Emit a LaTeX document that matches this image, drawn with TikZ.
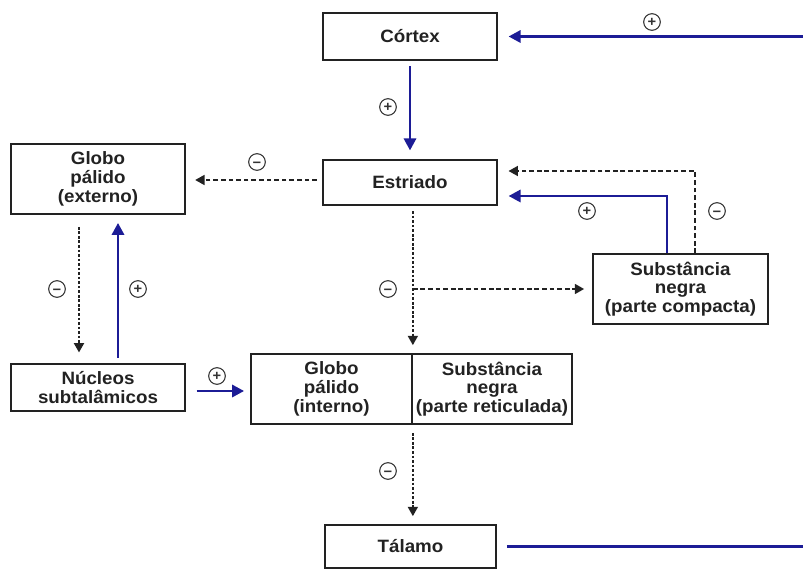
\documentclass[tikz,border=0pt]{standalone}
\usepackage{fontspec}
\setmainfont{Liberation Sans}[FakeStretch=1.05]
\usetikzlibrary{arrows.meta, calc, positioning}
\definecolor{Navy}  {HTML}{1C1C96}
\definecolor{DGray} {HTML}{222222}
\definecolor{MGray} {HTML}{333333}
\newcommand{\mns}{\raisebox{-1.3pt}{−}}
\tikzset{
  blk/.style={
    rectangle, draw=DGray, fill=white, text=DGray,
    font=\fontsize{13.4}{14}\selectfont\bfseries, align=center,
    inner sep=1pt, line width=1.3pt,
  },
  sgn/.style={
    circle, draw=MGray, line width=0.8pt, text=MGray,
    minimum size=12.5pt, inner sep=0pt,
    text height=0.62em, text depth=0pt,
    font=\fontsize{10.5}{11}\selectfont\bfseries,
  },
  blu/.style={
    -{Triangle[length=9pt,width=9pt]},
    line width=2.2pt, color=Navy,
  },
  dsh/.style={
    -{Triangle[length=7pt,width=7.5pt]},
    line width=1.2pt, color=DGray, dash pattern=on 3.5pt off 2.2pt,
  },
  dot/.style={
    -{Triangle[length=7pt,width=7.5pt]},
    line width=1.4pt, color=DGray, dash pattern=on 2pt off 1.4pt,
  },
}

\begin{document}
\begin{tikzpicture}[x=0.75pt,y=-0.75pt]
        \useasboundingbox (0,0) rectangle (803,570);
        % boxes
        \node[blk, minimum width=130.5pt, minimum height=35.25pt] (cortex) at (410,36.5) {Córtex};
        \node[blk, minimum width=130.5pt, minimum height=33.75pt] (estr)   at (410,182.5) {Estriado};
        \node[blk, minimum width=130.5pt, minimum height=52.5pt]  (gpe)    at (98,179) {Globo\\pálido\\(externo)};
        \node[blk, minimum width=130.5pt, minimum height=35.25pt] (nst)    at (98,387.5) {Núcleos\\subtalâmicos};
        \node[blk, minimum width=120.75pt, minimum height=52.5pt] (gpi)    at (331.5,389) {Globo\\pálido\\(interno)};
        \node[blk, minimum width=120pt, minimum height=52.5pt]    (snr)    at (492,389) {Substância\\negra\\(parte reticulada)};
        \node[blk, minimum width=131.25pt, minimum height=52.5pt] (snc)    at (680.5,289) {Substância\\negra\\(parte compacta)};
        \node[blk, minimum width=128.25pt, minimum height=32.25pt] (tal)   at (410.5,546.5) {Tálamo};
        % excitatory paths
        \coordinate (rt) at (812,546.5);
        \draw[blu, -] ([xshift=7.5pt]tal.east) -- (rt);
        \draw[blu, shorten >=8pt] (rt) |- (cortex.east);
        \draw[blu, shorten <=4pt, shorten >=6.5pt] (cortex.south) -- (estr.north);
        \draw[blu, shorten <=4pt, shorten >=6pt] ($(nst.north)+(20,0)$) -- ($(gpe.south)+(20,0)$);
        \draw[blu, shorten <=8pt, shorten >=4.5pt] (nst.east |- 0,391) -- (gpi.west |- 0,391);
        \draw[blu, shorten >=8pt] ($(snc.north)+(-13.5,0)$) |- ($(estr.east)+(0,13.5)$);
        % inhibitory paths
        \draw[dsh, shorten <=4pt, shorten >=7pt] (estr.west |- 0,180) -- (gpe.east |- 0,180);
        \draw[dot, shorten <=9pt, shorten >=8pt] ($(gpe.south)+(-19,0)$) -- ($(nst.north)+(-19,0)$);
        \draw[dot, shorten <=4pt, shorten >=6pt] (gpi.north east |- estr.south) -- (gpi.north east);
        \coordinate (br) at (gpi.north east |- snc.west);
        \draw[dsh, shorten >=6pt] (br) -- (snc.west);
        \draw[dsh, shorten >=8pt] ($(snc.north)+(14.5,0)$) |- ($(estr.east)+(0,-11.5)$);
        \draw[dot, shorten <=6pt, shorten >=6pt] (gpi.south east) -- (gpi.south east |- tal.north);
        % signs
        \node[sgn] (s1)  at (652,22)  {+};
        \node[sgn] (s2)  at (388,107) {+};
        \node[sgn] (s3)  at (257,162) {\mns};
        \node[sgn] (s4)  at (57,289)  {\mns};
        \node[sgn] (s5)  at (138,289) {+};
        \node[sgn] (s6)  at (217,376) {+};
        \node[sgn] (s7)  at (388,289) {\mns};
        \node[sgn] (s8)  at (587,211) {+};
        \node[sgn] (s9)  at (717,211) {\mns};
        \node[sgn] (s10) at (388,471) {\mns};
      \end{tikzpicture}
\end{document}
